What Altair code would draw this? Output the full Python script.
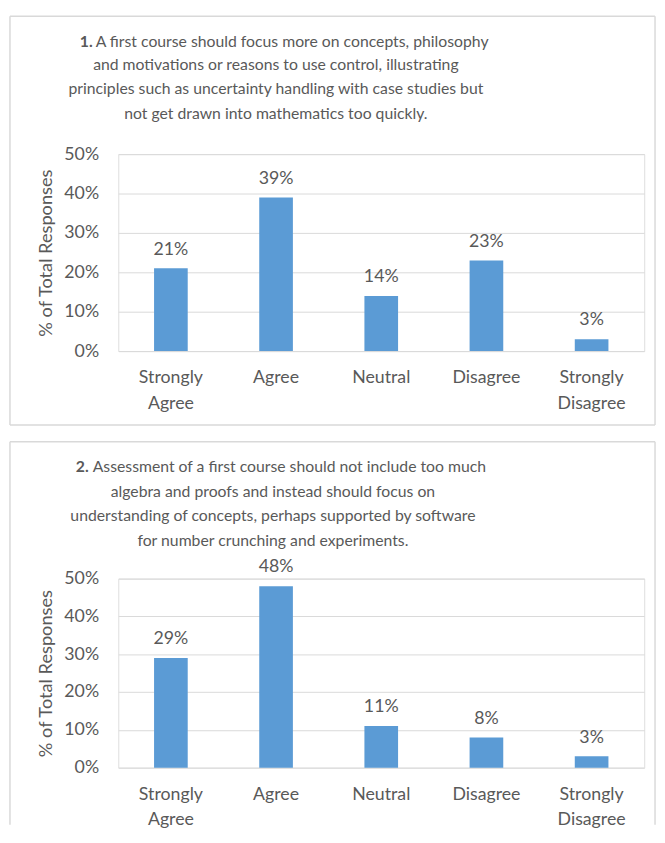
import altair as alt
import pandas as pd

categories = ["Strongly Agree", "Agree", "Neutral", "Disagree", "Strongly Disagree"]
q1_values = [21, 39, 14, 23, 3]
q2_values = [29, 48, 11, 8, 3]
y_ticks = [0, 10, 20, 30, 40, 50]

q1_number = "1."
q1_lines = [
    "A first course should focus more on concepts, philosophy",
    "and motivations or reasons to use control, illustrating",
    "principles such as uncertainty handling with case studies but",
    "not get drawn into mathematics too quickly.",
]
q2_number = "2."
q2_lines = [
    "Assessment of a  first course should not include too much",
    "algebra and proofs and instead should focus on",
    "understanding of concepts, perhaps supported by software",
    "for number crunching and experiments.",
]

FONT = "Lato"
TEXT = "#595959"
BAR = "#5B9BD5"
GRID = "#D9D9D9"
W = 534


def text_mark(s, x, y, align="center", weight="normal", size=16):
    return alt.Chart(pd.DataFrame({"t": [s]})).mark_text(
        align=align, baseline="alphabetic", font=FONT, fontSize=size,
        fontWeight=weight, color=TEXT
    ).encode(text="t:N", x=alt.value(x), y=alt.value(y))


def rule(x1, x2, y1, y2):
    one = pd.DataFrame({"a": [0]})
    if y1 == y2:
        enc = dict(x=alt.value(x1), x2=alt.value(x2), y=alt.value(y1))
    else:
        enc = dict(x=alt.value(x1), y=alt.value(y1), y2=alt.value(y2))
    return alt.Chart(one).mark_rule(color=GRID, strokeWidth=1.5).encode(**enc)


def panel(number, lines, values, h, title_ys, num_x, rest_x, center_x,
          frame_top, frame_bottom, closed):
    df = pd.DataFrame({
        "category": categories,
        "value": values,
        "label": [f"{v}%" for v in values],
    })
    base = alt.Chart(df).encode(
        x=alt.X("category:N", sort=categories,
                scale=alt.Scale(paddingInner=0.68, paddingOuter=0.34),
                axis=alt.Axis(title=None, labelAngle=0, domain=False, ticks=False,
                              labelExpr="split(datum.label, ' ')",
                              labelFont=FONT, labelFontSize=18, labelColor=TEXT,
                              labelPadding=18, labelLineHeight=26,
                              labelBaseline="top")),
        y=alt.Y("value:Q", scale=alt.Scale(domain=[0, 50], nice=False),
                axis=alt.Axis(values=y_ticks, labelExpr="datum.value + '%'",
                              domain=False, ticks=False, grid=True,
                              gridColor=GRID, labelFont=FONT, labelFontSize=18,
                              labelColor=TEXT, labelPadding=20,
                              title="% of Total Responses", titleFont=FONT,
                              titleFontSize=18.5, titleFontWeight="normal",
                              titleColor=TEXT, titlePadding=9)),
    )
    bars = base.mark_bar(color=BAR)
    labels = base.mark_text(dy=-14, baseline="alphabetic", font=FONT,
                            fontSize=18, color=TEXT).encode(text="label:N")

    L, R = -110, 545
    frame = [rule(L, R, frame_top, frame_top),
             rule(L, L, frame_top, frame_bottom),
             rule(R, R, frame_top, frame_bottom)]
    if closed:
        frame.append(rule(L, R, frame_bottom, frame_bottom))

    titles = [text_mark(number, num_x, title_ys[0], align="right", weight="bold"),
              text_mark(lines[0], rest_x, title_ys[0], align="left")]
    for line, ty in zip(lines[1:], title_ys[1:]):
        titles.append(text_mark(line, center_x, ty))

    return alt.layer(*frame, bars, labels, *titles).properties(width=W, height=h)


p1 = panel(q1_number, q1_lines, q1_values, 200, [-109, -85, -61, -36],
           -26, -23, 160, -140, 275, True)
p2 = panel(q2_number, q2_lines, q2_values, 192, [-108, -83, -58, -33],
           -30, -26, 157, -139, 250, False)

chart = alt.vconcat(p1, p2, spacing=13).properties(
    padding=0
).configure_view(strokeWidth=0).configure(background="white")

chart.save("out.html", embed_options={"renderer": "svg", "actions": False})
